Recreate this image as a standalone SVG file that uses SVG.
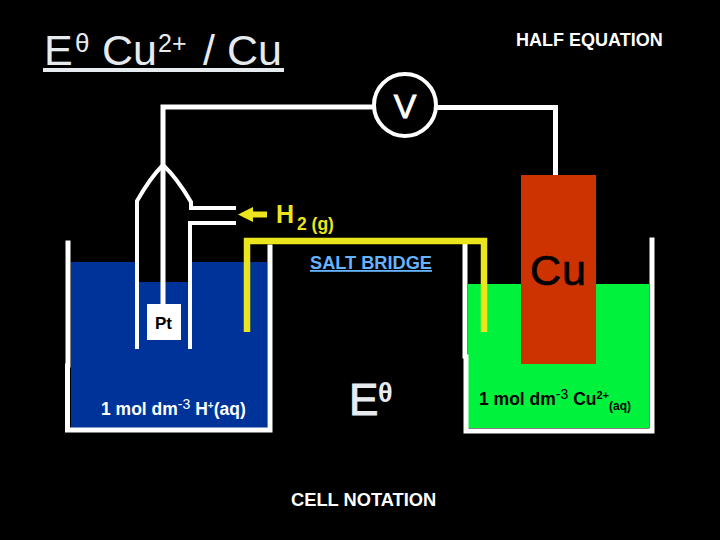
<svg xmlns="http://www.w3.org/2000/svg" width="720" height="540" viewBox="0 0 720 540">
<style>
text{font-family:"Liberation Sans",Arial,sans-serif}
.b{font-weight:bold}
.w{fill:none;stroke:#fff;stroke-width:5;stroke-linecap:square}
.t{fill:none;stroke:#fff;stroke-width:4}
.light{fill:#e6ebf0}
.y{fill:#ebe51e}
</style>
<rect width="720" height="540" fill="#000"/>
<g id="title" class="light">
<text x="44" y="65" font-size="43">E</text>
<text x="75" y="52" font-size="26">θ</text>
<text x="102" y="65" font-size="43">Cu</text>
<text x="158" y="52" font-size="25">2+</text>
<text x="203" y="65" font-size="43">/</text>
<text x="227" y="65" font-size="43">Cu</text>
<rect x="43" y="68" width="241" height="4"/>
</g>
<g id="half-equation"><text class="b" x="516" y="46" font-size="18" fill="#fff">HALF EQUATION</text></g>
<g id="left-cell">
<rect x="71" y="262" width="196" height="166" fill="#003399"/>
<rect x="139" y="208" width="49" height="74" fill="#000"/>
<path class="w" d="M68 243V365M67.500 366V430H270M270 430V247"/>
</g>
<g id="right-cell">
<rect x="468" y="284" width="181" height="144" fill="#00f23c"/>
<path class="w" d="M465 246V356M466 357V431H652V240"/>
<text class="b" x="479" y="405" font-size="17.500" fill="#000">1 mol dm<tspan font-size="14" dy="-6" font-weight="normal">-3</tspan><tspan dy="6"> Cu</tspan><tspan font-size="11" dy="-6">2+</tspan><tspan font-size="12" dy="11">(aq)</tspan></text>
</g>
<g id="connectors">
<path class="w" d="M163 302V107H375M435 107.500H555.500V173"/>
<path class="t" d="M137 349V201Q150 178 163 165Q177 178 191 202V208H236M236 223H190V349"/>
<path fill="none" stroke="#ebe51e" stroke-width="6.500" d="M247 332V241H484V332"/>
<path class="y" d="M238 214.500L253 207V211.500H267V217.500H253V222Z"/>
</g>
<g id="voltmeter">
<circle cx="405" cy="105" r="31" fill="#000" stroke="#fff" stroke-width="4"/>
<text x="405" y="118" font-size="34" text-anchor="middle" fill="#fff" stroke="#fff" stroke-width="0.800">V</text>
</g>
<g id="copper">
<rect x="521" y="175" width="75" height="189" fill="#cc3300"/>
<text x="530" y="285" font-size="43" fill="#000" stroke="#000" stroke-width="0.700" letter-spacing="1">Cu</text>
</g>
<g id="platinum">
<rect x="147" y="304" width="34" height="36" fill="#fff"/>
<text class="b" x="155" y="329" font-size="17" fill="#000">Pt</text>
</g>
<g id="h2-label"><text class="b y" x="276" y="223" font-size="25">H<tspan x="297" font-size="17.500" dy="7">2 (g)</tspan></text></g>
<g id="salt-bridge"><text class="b" x="310" y="269" font-size="18.200" fill="#66b3ff" text-decoration="underline">SALT BRIDGE</text></g>
<g id="left-solution"><text class="b" x="101" y="415" font-size="17.500" fill="#fff">1 mol dm<tspan font-size="14" dy="-6" font-weight="normal">-3</tspan><tspan dy="6"> H</tspan><tspan font-size="10" dy="-6">+</tspan><tspan dy="6">(aq)</tspan></text></g>
<g id="e-standard" class="light">
<text x="349" y="415" font-size="44" stroke="#e6ebf0" stroke-width="1">E</text>
<text x="378" y="402" font-size="27" class="b">θ</text>
</g>
<g id="cell-notation"><text class="b" x="291" y="506" font-size="18.300" fill="#fff">CELL NOTATION</text></g>
</svg>
